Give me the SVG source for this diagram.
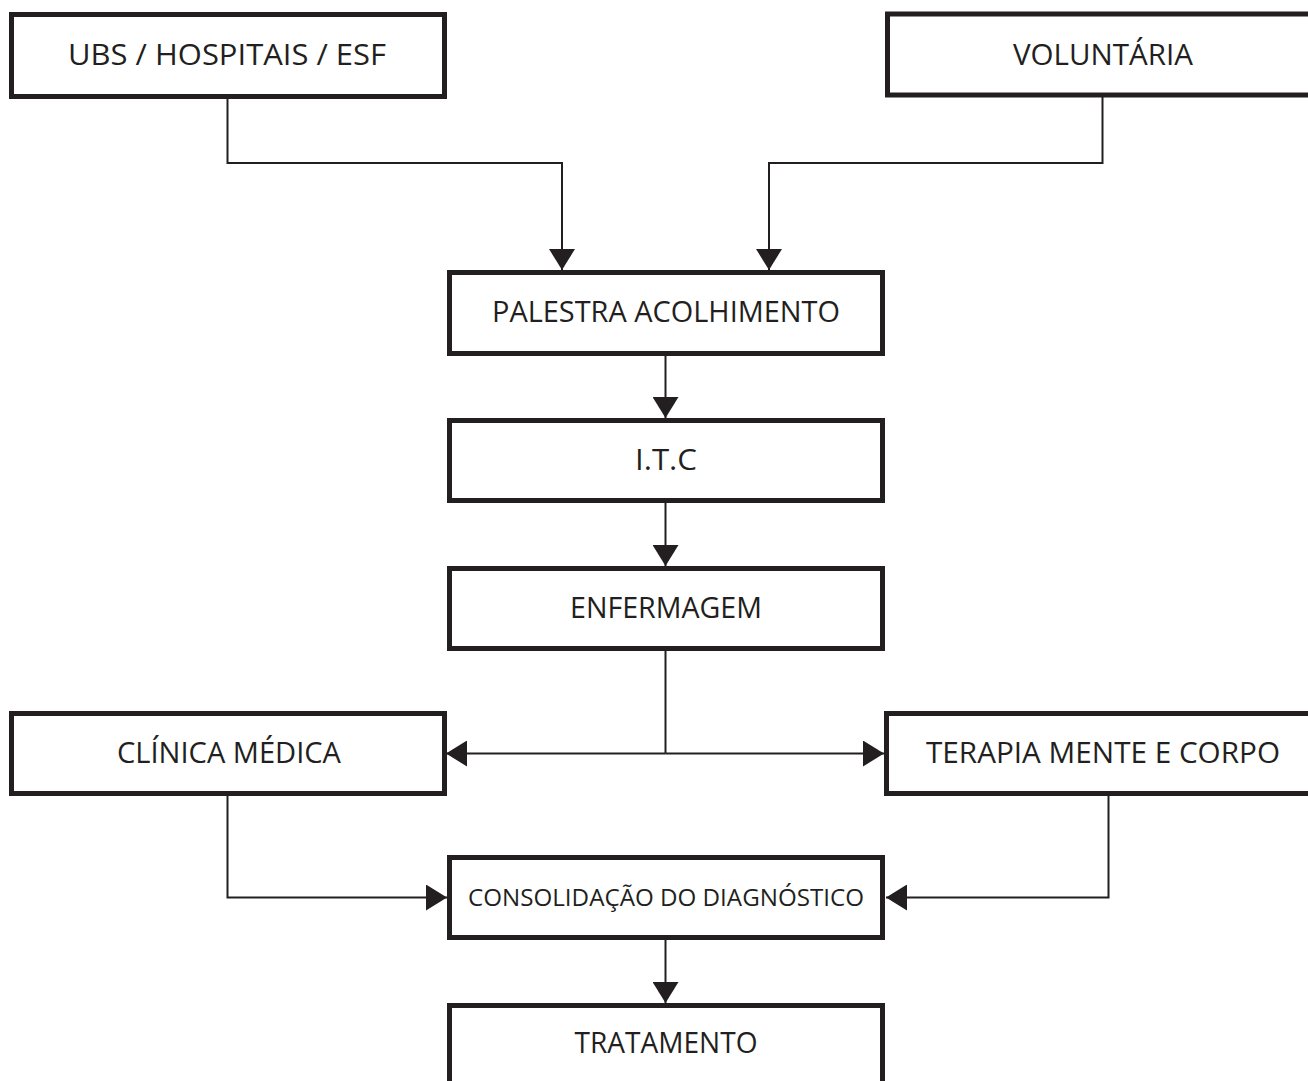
<svg xmlns="http://www.w3.org/2000/svg" width="1308" height="1081" viewBox="0 0 1308 1081">
  <style>
    .box { fill: #ffffff; stroke: #231f20; stroke-width: 5; }
    .lbl { font-family: "Open Sans", "DejaVu Sans", sans-serif; font-size: 30px; fill: #231f20; text-anchor: middle; }
    .sm { font-size: 23px; }
    .con { fill: none; stroke: #231f20; stroke-width: 2; }
  </style>
  <defs>
    <marker id="arr" markerUnits="userSpaceOnUse" markerWidth="22" markerHeight="26" refX="21" refY="13" orient="auto">
      <path d="M0,0 L21,13 L0,26 Z" fill="#231f20"/>
    </marker>
  </defs>
  <rect width="1308" height="1081" fill="#ffffff"/>

  <g id="connectors">
    <path class="con" d="M227.5,99 V163 H562 V270" marker-end="url(#arr)"/>
    <path class="con" d="M1102.5,97 V163 H769 V270" marker-end="url(#arr)"/>
    <path class="con" d="M665.5,356 V418" marker-end="url(#arr)"/>
    <path class="con" d="M665.5,503 V566" marker-end="url(#arr)"/>
    <path class="con" d="M665.5,651 V753.5"/>
    <path class="con" d="M665.5,753.5 H446" marker-end="url(#arr)"/>
    <path class="con" d="M665.5,753.5 H884" marker-end="url(#arr)"/>
    <path class="con" d="M227.5,796 V897.5 H447" marker-end="url(#arr)"/>
    <path class="con" d="M1108.5,796 V897.5 H886" marker-end="url(#arr)"/>
    <path class="con" d="M665.5,940 V1003" marker-end="url(#arr)"/>
  </g>

  <g id="node-ubs">
    <rect class="box" x="11.5" y="14.5" width="433" height="82"/>
    <text class="lbl" x="227" y="65" textLength="318" lengthAdjust="spacingAndGlyphs">UBS / HOSPITAIS / ESF</text>
  </g>
  <g id="node-voluntaria">
    <rect class="box" x="887.5" y="14" width="440" height="81"/>
    <text class="lbl" x="1103" y="65" textLength="180" lengthAdjust="spacingAndGlyphs">VOLUNTÁRIA</text>
  </g>
  <g id="node-palestra">
    <rect class="box" x="449.5" y="272.5" width="433" height="81"/>
    <text class="lbl" x="666" y="322" textLength="348" lengthAdjust="spacingAndGlyphs">PALESTRA ACOLHIMENTO</text>
  </g>
  <g id="node-itc">
    <rect class="box" x="449.5" y="420.5" width="433" height="80"/>
    <text class="lbl" x="666" y="470" textLength="62" lengthAdjust="spacingAndGlyphs">I.T.C</text>
  </g>
  <g id="node-enfermagem">
    <rect class="box" x="449.5" y="568.5" width="433" height="80"/>
    <text class="lbl" x="666" y="618" textLength="192" lengthAdjust="spacingAndGlyphs">ENFERMAGEM</text>
  </g>
  <g id="node-clinica">
    <rect class="box" x="11.5" y="713.5" width="433" height="80"/>
    <text class="lbl" x="229" y="763" textLength="224" lengthAdjust="spacingAndGlyphs">CLÍNICA MÉDICA</text>
  </g>
  <g id="node-terapia">
    <rect class="box" x="886.5" y="713.5" width="440" height="80"/>
    <text class="lbl" x="1103" y="763" textLength="354" lengthAdjust="spacingAndGlyphs">TERAPIA MENTE E CORPO</text>
  </g>
  <g id="node-consolidacao">
    <rect class="box" x="449.5" y="857.5" width="433" height="80"/>
    <text class="lbl sm" x="666" y="906" textLength="396" lengthAdjust="spacingAndGlyphs">CONSOLIDAÇÃO DO DIAGNÓSTICO</text>
  </g>
  <g id="node-tratamento">
    <rect class="box" x="449.5" y="1005.5" width="433" height="100"/>
    <text class="lbl" x="666" y="1053" textLength="183" lengthAdjust="spacingAndGlyphs">TRATAMENTO</text>
  </g>
</svg>
